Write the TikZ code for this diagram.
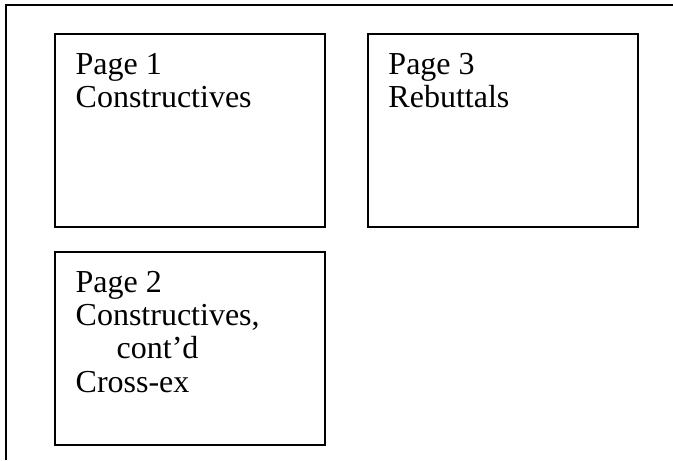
\documentclass[tikz,border=0pt]{standalone}
\usepackage{fontspec}
\setmainfont{Liberation Serif}
\usetikzlibrary{positioning}
\tikzset{
  pagebox/.style={rectangle,draw=black,line width=0.7pt,
    minimum width=101.25pt,minimum height=72.4pt,inner sep=0pt},
  pagetext/.style={anchor=north west,align=left,inner sep=0pt,
    font=\fontsize{12}{12.5}\selectfont},
  frameline/.style={draw=black,line width=0.8pt},
}
\begin{document}
\begin{tikzpicture}[x=0.375pt,y=-0.375pt,node distance=8.6pt and 15.35pt]
  \useasboundingbox (0,0) rectangle (673,460);
  \draw[frameline] (673,5) -- (6,5) -- (6,460);
  \node[pagebox] (pg1) at (190,130.5) {};
  \node[pagebox, right=of pg1] (pg3) {};
  \node[pagebox, below=of pg1] (pg2) {};
  \node[pagetext] (pg1txt) at ([xshift=7.9pt,yshift=-7.3pt]pg1.north west)
    {Page 1\\Constructives};
  \node[pagetext] (pg3txt) at ([xshift=7.9pt,yshift=-7.3pt]pg3.north west)
    {Page 3\\Rebuttals};
  \node[pagetext] (pg2txt) at ([xshift=7.9pt,yshift=-7.3pt]pg2.north west)
    {Page 2\\Constructives,\\\hspace*{15.4pt}cont’d\\Cross-ex};
\end{tikzpicture}
\end{document}
